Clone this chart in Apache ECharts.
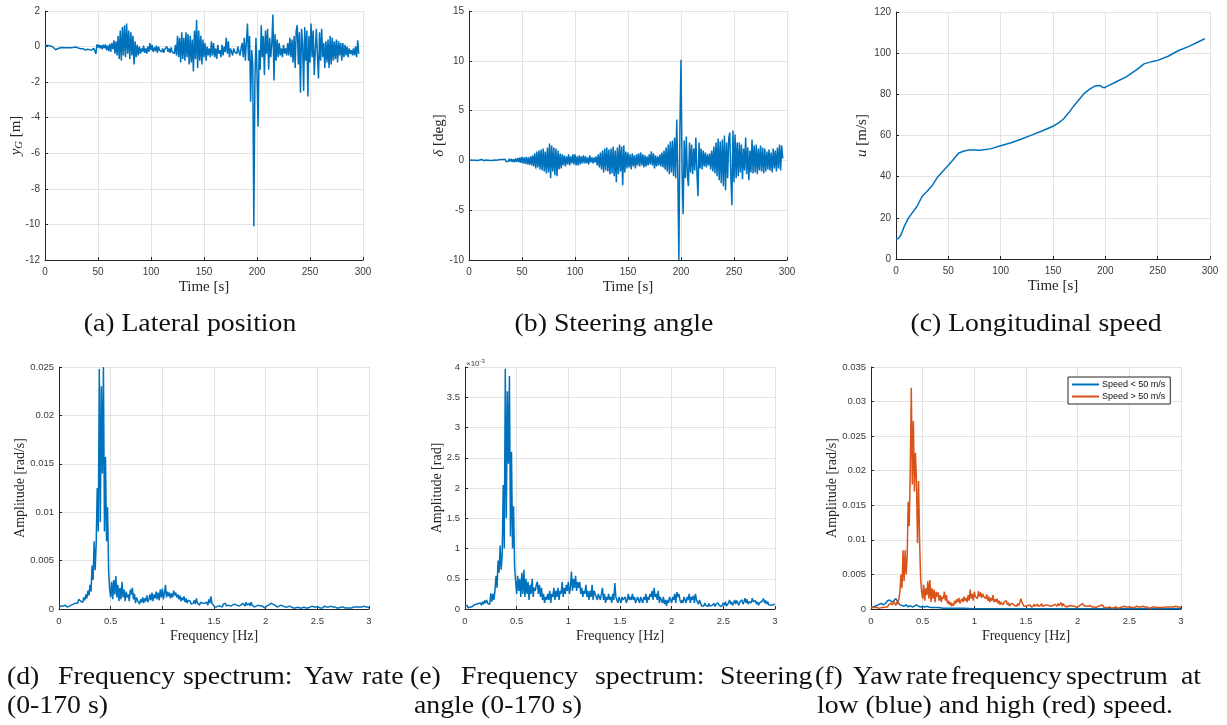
<!DOCTYPE html>
<html>
<head>
<meta charset="utf-8">
<script src="https://cdn.jsdelivr.net/npm/echarts@6/dist/echarts.min.js"></script>
<style>
  html, body { margin: 0; padding: 0; background: #fff; }
  #chart { width: 1227px; height: 725px; }
</style>
</head>
<body>
<div id="chart"></div>
<script>
// ---- Time histories, one sample per second (t = 0 ... 296 s) ----
const timeStep = 1;
const timeTicks = [0, 50, 100, 150, 200, 250, 300];

// Lateral position y_G [m]
const lateralPos = [
  0.05,0.06,0.07,0.06,0.05,0.04,0.02,0,-0.05,-0.1,
  -0.18,-0.22,-0.12,-0.05,-0.08,-0.06,-0.05,-0.07,-0.06,-0.05,
  -0.06,-0.05,-0.07,-0.05,-0.06,-0.04,-0.06,-0.05,-0.03,-0.06,
  -0.04,-0.07,-0.1,-0.08,-0.12,-0.14,-0.12,-0.16,-0.2,-0.18,
  -0.15,-0.2,-0.18,-0.13,-0.2,-0.16,-0.1,-0.25,-0.42,0.12,
  -0.05,0.1,-0.1,0.08,-0.15,0.1,-0.08,0.12,-0.2,0.05,
  -0.25,0.15,-0.3,0.2,-0.15,0.35,-0.4,0.3,-0.5,0.6,
  -0.7,0.9,-0.8,1.1,-0.5,1.2,-0.6,1.3,-0.4,0.9,
  -0.7,0.8,-0.5,0.6,-1.0,0.3,-0.6,0.1,-0.5,0.0,
  -0.4,-0.1,-0.3,0.05,-0.35,-0.1,-0.4,0.0,-0.3,0.2,
  -0.2,0.1,-0.3,-0.05,-0.25,0.05,-0.35,0.0,-0.2,-0.15,
  -0.3,-0.1,-0.35,-0.15,-0.2,0.0,-0.3,-0.1,-0.35,-0.05,
  -0.3,-0.2,-0.4,0.1,-0.5,0.6,-0.6,0.5,-0.9,0.8,
  -0.7,0.5,-0.8,0.8,-0.6,0.7,-1.0,0.6,-0.9,0.4,
  -1.4,0.9,-0.7,1.5,-1.2,0.9,-0.8,0.6,-1.0,0.4,
  -0.6,0.2,-0.8,0.0,-0.5,-0.1,-0.6,0.3,-0.5,0.2,
  -0.6,-0.1,-0.7,0.1,-0.4,-0.2,-0.6,0.1,-0.5,0.0,
  -0.3,0.5,-0.4,0.3,-0.6,-0.1,-0.2,-0.5,-0.1,-0.3,
  -0.2,-0.4,0.0,-0.3,-0.5,-0.1,0.2,-0.6,0.5,-0.8,
  -0.9,1.3,-0.8,0.6,-3.1,-0.2,-1.0,-10.1,-2.0,0.5,
  -1.5,-4.5,-0.2,-1.3,1.2,-0.6,0.6,-1.6,0.9,-0.4,
  1.0,-1.3,0.5,-0.6,0.2,1.8,-1.9,0.7,-0.8,0.4,
  -0.6,0.2,-0.5,-0.1,-0.6,0.1,-0.4,-0.1,-0.5,0.2,
  -0.5,0.5,-0.6,0.4,-0.9,0.6,-1.2,0.9,1.2,-1.0,
  0.8,-2.6,1.0,0.2,-2.5,1.1,-0.8,0.9,-2.8,0.6,
  -0.9,1.3,-0.6,0.9,-1.6,-0.2,1.0,-0.5,-1.8,0.8,
  -0.8,1.0,-0.6,0.2,-1.2,0.3,-0.9,0.4,-1.2,0.6,
  -1.0,0.5,-0.8,0.3,-0.7,0.4,-0.9,0.3,-0.5,0.2,
  -0.8,0.2,-0.6,0.1,-0.5,0.0,-0.6,-0.1,-0.4,-0.2,
  -0.5,-0.1,-0.5,0.0,-0.6,0.35,-0.4
];

// Steering angle delta [deg]
const steeringAngle = [
  0.02,0.0,0.03,-0.02,0.01,0.0,0.02,-0.01,0.0,0.02,
  0.05,0.08,0.1,0.02,-0.03,0.0,0.04,-0.02,0.01,0.03,
  -0.02,0.04,0.0,-0.05,0.05,-0.03,0.02,-0.04,0.06,-0.05,
  0.08,-0.06,0.1,-0.08,0.12,-0.1,0.1,-0.12,0.15,-0.1,
  0.15,-0.15,0.12,-0.18,0.2,-0.15,0.25,-0.2,0.3,-0.25,
  0.35,-0.3,0.3,-0.35,0.35,-0.4,0.3,-0.45,0.4,-0.5,
  0.5,-0.6,0.7,-0.8,0.9,-0.7,1.0,-0.9,1.1,-1.0,
  1.2,-1.1,0.9,-1.3,1.3,-1.2,1.7,-1.8,1.5,-1.1,
  1.3,-1.5,1.2,-1.6,1.0,-0.9,0.7,-0.8,0.6,-0.5,
  0.5,-0.6,0.4,-0.4,0.6,-0.5,0.4,-0.3,0.6,-0.4,
  0.6,-0.5,0.4,-0.5,0.5,-0.4,0.4,-0.3,0.5,-0.3,
  0.4,-0.3,0.3,-0.4,0.5,-0.2,0.3,-0.3,0.3,-0.2,
  0.4,-0.5,0.6,-0.7,0.8,-0.9,1.0,-1.2,1.2,-1.0,
  1.3,-1.1,1.1,-1.4,1.2,-1.3,1.4,-1.6,1.0,-2.2,
  1.3,-1.4,1.6,-1.1,1.4,-2.5,1.5,-1.2,0.9,-0.8,
  0.8,-0.7,0.6,-0.9,0.7,-0.6,0.5,-0.8,0.6,-0.5,
  0.7,-0.6,0.8,-0.5,0.6,-0.7,0.5,-0.6,0.4,-0.5,
  0.6,-0.4,0.9,-0.5,0.7,-0.8,0.5,-0.6,0.4,-0.5,
  0.6,-0.6,0.8,-0.7,1.0,-0.9,1.3,-1.1,1.6,-1.4,
  1.9,-1.2,2.0,-1.6,2.3,-1.8,4.1,-1.5,-10,3.5,
  10.1,-1.0,-5.4,2.0,-1.8,2.4,-1.5,-2.6,1.8,-1.2,
  1.6,-1.4,1.2,-1.0,2.3,-1.2,-3.6,1.8,-0.8,1.2,
  -0.9,1.0,-0.6,0.8,-0.7,0.6,-0.5,0.7,-0.9,1.0,
  -1.1,1.4,-1.3,1.8,-1.6,2.2,-2.0,1.9,-2.3,2.1,
  -2.6,2.5,-3.0,1.8,-1.8,2.2,2.8,-1.5,-4.5,3.0,
  -2.2,2.6,-1.8,1.8,-1.6,1.8,-1.2,1.6,-1.9,1.2,
  -1.0,2.3,-1.4,1.3,-2.0,1.0,-1.2,2.1,-1.3,1.5,
  -1.2,1.6,-1.4,1.2,-1.0,1.5,-1.1,1.3,-1.3,1.2,
  -1.1,0.9,-0.9,1.1,-1.0,0.8,-1.2,1.2,-0.8,1.0,
  -1.1,1.3,-0.8,1.6,-1.0,1.5,0.2
];

// Longitudinal speed u [m/s]
const speedTime = [0,2,5,8,12,20,25,30,35,40,50,55,60,65,70,75,80,90,100,110,120,130,140,150,155,160,165,170,175,180,185,190,195,197,199,202,210,220,230,237,245,250,260,270,280,290,295];
const speedVal  = [10,9.8,12,16,20,25.5,30.5,33,36,40,45.5,48.5,51.5,52.5,53,53,52.8,53.5,55,56.5,58.3,60.3,62.3,64.5,66,68,71,74.5,77.5,80.5,82.5,84,84.3,83.5,83.2,84,86,88.5,92,94.8,96,96.5,98.5,101.3,103.3,105.8,107];

// ---- Amplitude spectra, 0.01 Hz bins from 0 to 3 Hz ----
const freqStep = 0.01;
const freqTicks = [0, 0.5, 1, 1.5, 2, 2.5, 3];

// Yaw rate spectrum, 0-170 s [rad/s]
const yawSpec = [
  0.0002,0.0002,0.0003,0.0002,0.0003,0.0002,0.0004,0.0003,0.0002,0.0004,
  0.0003,0.0005,0.0004,0.0006,0.0005,0.0007,0.0006,0.0008,0.0006,0.0010,
  0.0012,0.0008,0.0010,0.0007,0.0012,0.0009,0.0015,0.0011,0.0019,0.0014,
  0.0025,0.0018,0.0045,0.0030,0.0070,0.0040,0.0068,0.0125,0.0080,0.0248,
  0.0090,0.0230,0.0140,0.0250,0.0080,0.0157,0.0070,0.0105,0.0040,0.0020,
  0.0012,0.0028,0.0010,0.0030,0.0015,0.0034,0.0012,0.0025,0.0008,0.0022,
  0.0010,0.0028,0.0012,0.0020,0.0008,0.0018,0.0012,0.0015,0.0008,0.0020,
  0.0015,0.0022,0.0010,0.0016,0.0006,0.0012,0.0009,0.0008,0.0005,0.0010,
  0.0007,0.0012,0.0006,0.0011,0.0008,0.0014,0.0007,0.0010,0.0015,0.0009,
  0.0017,0.0008,0.0015,0.0011,0.0018,0.0010,0.0017,0.0009,0.0020,0.0012,
  0.0021,0.0010,0.0016,0.0025,0.0012,0.0018,0.0013,0.0017,0.0011,0.0016,
  0.0012,0.0019,0.0014,0.0017,0.0012,0.0015,0.0010,0.0014,0.0008,0.0012,
  0.0009,0.0013,0.0007,0.0011,0.0006,0.0009,0.0007,0.0008,0.0005,0.0007,
  0.0006,0.0009,0.0005,0.0011,0.0006,0.0008,0.0004,0.0007,0.0005,0.0006,
  0.0004,0.0006,0.0005,0.0007,0.0004,0.0010,0.0006,0.0013,0.0006,0.0004,
  0.0003,0.0005,0.0002,0.0004,0.0003,0.0005,0.0003,0.0004,0.0002,0.0005,
  0.0004,0.0006,0.0003,0.0005,0.0004,0.0006,0.0003,0.0005,0.0004,0.0003,
  0.0005,0.0003,0.0004,0.0006,0.0003,0.0005,0.0004,0.0002,0.0006,0.0004,
  0.0003,0.0007,0.0004,0.0005,0.0006,0.0003,0.0007,0.0004,0.0005,0.0002,
  0.0004,0.0003,0.0002,0.0004,0.0002,0.0003,0.0001,0.0003,0.0002,0.0001,
  0.0002,0.0003,0.0002,0.0004,0.0003,0.0006,0.0004,0.0005,0.0003,0.0004,
  0.0003,0.0002,0.0004,0.0003,0.0002,0.0004,0.0002,0.0003,0.0001,0.0002,
  0.0003,0.0002,0.0004,0.0003,0.0004,0.0002,0.0003,0.0001,0.0002,0.0001,
  0.0001,0.0002,0.0001,0.0001,0.0002,0.0001,0.0001,0.0002,0.0001,0.0001,
  0.0002,0.0001,0.0001,0.0002,0.0001,0.0003,0.0001,0.0002,0.0001,0.0002,
  0.0001,0.0002,0.0003,0.0001,0.0002,0.0001,0.0002,0.0003,0.0001,0.0002,
  0.0001,0.0002,0.0001,0.0003,0.0001,0.0002,0.0001,0.0002,0.0001,0.0001,
  0.0002,0.0001,0.0003,0.0002,0.0001,0.0002,0.0003,0.0001,0.0002,0.0001,
  0.0002,0.0001,0.0002,0.0001,0.0003,0.0002,0.0001,0.0002,0.0001,0.0002,
  0.0001,0.0002,0.0001,0.0002,0.0001,0.0003,0.0001,0.0002,0.0001,0.0002,0.0001
];

// Steering angle spectrum, 0-170 s [rad], in units of 1e-3
const steerSpec = [
  0.05,0.03,0.06,0.02,0.05,0.03,0.06,0.04,0.03,0.07,
  0.05,0.08,0.06,0.09,0.07,0.10,0.06,0.12,0.08,0.14,
  0.10,0.15,0.09,0.12,0.08,0.26,0.12,0.25,0.15,0.30,
  0.55,0.35,0.80,0.60,1.05,0.65,0.90,2.05,1.00,3.97,
  1.50,3.60,2.40,3.85,1.20,2.60,1.00,1.70,0.70,0.45,
  0.25,0.55,0.30,0.50,0.20,0.60,0.25,0.65,0.20,0.50,
  0.25,0.45,0.15,0.40,0.25,0.50,0.20,0.35,0.30,0.40,
  0.45,0.25,0.40,0.20,0.35,0.15,0.25,0.10,0.20,0.15,
  0.25,0.15,0.30,0.10,0.25,0.20,0.35,0.15,0.30,0.20,
  0.35,0.15,0.30,0.25,0.45,0.20,0.35,0.25,0.40,0.30,
  0.45,0.25,0.35,0.62,0.30,0.50,0.35,0.55,0.30,0.45,
  0.35,0.45,0.25,0.35,0.20,0.30,0.25,0.40,0.20,0.30,
  0.15,0.30,0.20,0.40,0.15,0.30,0.25,0.20,0.15,0.25,
  0.20,0.15,0.25,0.35,0.15,0.25,0.10,0.20,0.15,0.25,
  0.15,0.20,0.10,0.25,0.15,0.43,0.20,0.15,0.10,0.20,
  0.15,0.10,0.20,0.15,0.12,0.20,0.10,0.15,0.25,0.15,
  0.20,0.15,0.25,0.15,0.20,0.10,0.15,0.20,0.15,0.10,
  0.20,0.15,0.10,0.20,0.15,0.25,0.10,0.20,0.15,0.25,
  0.20,0.30,0.15,0.35,0.20,0.25,0.15,0.30,0.10,0.20,
  0.15,0.10,0.20,0.08,0.15,0.05,0.15,0.10,0.20,0.15,
  0.10,0.20,0.15,0.25,0.10,0.28,0.20,0.25,0.15,0.10,
  0.15,0.10,0.20,0.15,0.10,0.20,0.15,0.25,0.10,0.20,
  0.15,0.22,0.10,0.25,0.15,0.12,0.08,0.15,0.10,0.05,
  0.08,0.05,0.10,0.06,0.08,0.04,0.09,0.05,0.08,0.06,
  0.05,0.09,0.04,0.08,0.05,0.10,0.06,0.08,0.04,0.07,
  0.10,0.06,0.12,0.05,0.08,0.10,0.15,0.08,0.12,0.06,
  0.10,0.15,0.08,0.14,0.10,0.06,0.12,0.09,0.15,0.08,
  0.12,0.18,0.10,0.16,0.08,0.12,0.15,0.10,0.18,0.12,
  0.10,0.14,0.08,0.12,0.06,0.10,0.08,0.12,0.10,0.17,
  0.10,0.14,0.08,0.12,0.07,0.10,0.06,0.09,0.07,0.10,0.08
];

// Yaw rate spectrum at low speed (< 50 m/s) [rad/s]
const lowSpeedFreq = [0,0.02,0.04,0.06,0.08,0.10,0.12,0.14,0.16,0.18,0.20,0.22,0.24,0.26,0.28,0.30,0.32,0.34,0.36,0.38,0.40,0.42,0.44,0.46,0.48,0.50,0.52,0.54,0.56,0.58,0.60,0.65,0.70,0.80,0.90,1.0,1.5,2.0,2.5,3.0];
const lowSpeedAmp  = [0.0002,0.0003,0.0004,0.0005,0.0007,0.0008,0.0006,0.0008,0.0012,0.0013,0.0010,0.0012,0.0015,0.0010,0.0006,0.0005,0.0004,0.0006,0.0003,0.0005,0.0003,0.0004,0.0006,0.0004,0.0003,0.0004,0.0003,0.0004,0.0003,0.0002,0.0002,0.0002,0.0001,0.0001,0.0001,0.00005,0.00005,0.00005,0.00005,0.00005];

// Yaw rate spectrum at high speed (> 50 m/s) [rad/s]
const highSpeedAmp = [
  0.0002,0.0001,0.0002,0.0001,0.0002,0.0001,0.0002,0.0003,0.0001,0.0002,
  0.0002,0.0003,0.0002,0.0004,0.0003,0.0005,0.0003,0.0006,0.0004,0.0008,
  0.0010,0.0006,0.0012,0.0008,0.0005,0.0010,0.0007,0.0015,0.0025,0.0050,
  0.0030,0.0085,0.0040,0.0085,0.0050,0.0075,0.0155,0.0120,0.0200,0.0320,
  0.0180,0.0272,0.0170,0.0226,0.0185,0.0095,0.0185,0.0100,0.0045,0.0025,
  0.0015,0.0035,0.0012,0.0030,0.0020,0.0040,0.0015,0.0042,0.0010,0.0030,
  0.0015,0.0028,0.0010,0.0025,0.0018,0.0024,0.0012,0.0020,0.0010,0.0018,
  0.0015,0.0025,0.0012,0.0020,0.0008,0.0012,0.0006,0.0010,0.0004,0.0008,
  0.0005,0.0012,0.0008,0.0014,0.0010,0.0016,0.0008,0.0012,0.0015,0.0010,
  0.0018,0.0012,0.0016,0.0010,0.0020,0.0012,0.0028,0.0015,0.0022,0.0012,
  0.0025,0.0018,0.0020,0.0015,0.0026,0.0018,0.0024,0.0016,0.0022,0.0018,
  0.0020,0.0015,0.0021,0.0012,0.0018,0.0010,0.0016,0.0012,0.0020,0.0010,
  0.0014,0.0010,0.0015,0.0008,0.0012,0.0006,0.0010,0.0008,0.0006,0.0010,
  0.0008,0.0012,0.0006,0.0009,0.0004,0.0007,0.0005,0.0008,0.0006,0.0005,
  0.0006,0.0004,0.0008,0.0005,0.0009,0.0015,0.0010,0.0007,0.0004,0.0006,
  0.0004,0.0003,0.0005,0.0004,0.0006,0.0003,0.0005,0.0004,0.0007,0.0004,
  0.0005,0.0007,0.0004,0.0006,0.0005,0.0008,0.0004,0.0006,0.0005,0.0004,
  0.0006,0.0004,0.0005,0.0007,0.0004,0.0006,0.0005,0.0003,0.0007,0.0005,
  0.0004,0.0008,0.0005,0.0006,0.0009,0.0004,0.0008,0.0005,0.0006,0.0003,
  0.0005,0.0004,0.0003,0.0005,0.0003,0.0004,0.0002,0.0004,0.0003,0.0002,
  0.0003,0.0004,0.0003,0.0006,0.0004,0.0008,0.0005,0.0006,0.0004,0.0005,
  0.0004,0.0003,0.0005,0.0004,0.0003,0.0005,0.0003,0.0004,0.0002,0.0003,
  0.0004,0.0003,0.0005,0.0004,0.0006,0.0003,0.0004,0.0002,0.0003,0.0002,
  0.0002,0.0003,0.0002,0.0001,0.0003,0.0002,0.0001,0.0003,0.0002,0.0001,
  0.0003,0.0002,0.0001,0.0003,0.0002,0.0004,0.0002,0.0003,0.0001,0.0003,
  0.0002,0.0003,0.0004,0.0002,0.0003,0.0002,0.0003,0.0004,0.0002,0.0003,
  0.0002,0.0003,0.0002,0.0004,0.0002,0.0003,0.0002,0.0003,0.0002,0.0001,
  0.0003,0.0002,0.0004,0.0003,0.0002,0.0003,0.0004,0.0002,0.0003,0.0002,
  0.0003,0.0002,0.0003,0.0002,0.0004,0.0003,0.0002,0.0003,0.0002,0.0003,
  0.0002,0.0003,0.0002,0.0003,0.0002,0.0004,0.0002,0.0003,0.0002,0.0003,0.0002
];

const legendNames = ['Speed < 50 m/s', 'Speed > 50 m/s'];

// ---- Styling ----
const BLUE = '#0072BD';
const ORANGE = '#D95319';
const AXIS = '#262626';
const GRID = '#e3e3e3';
const SERIF = '"Liberation Serif", "Times New Roman", serif';
const SANS = '"Liberation Sans", Arial, Helvetica, sans-serif';

const onGrid = (vals, step) => vals.map((v, i) => [Math.round(i * step * 1000) / 1000, v]);
const pairs = (xs, ys) => xs.map((x, i) => [x, ys[i]]);

function axisCommon(gi, min, max, interval, labelSize) {
  return {
    type: 'value', gridIndex: gi, min, max, interval,
    axisLine: { show: true, onZero: false, lineStyle: { color: AXIS, width: 1 } },
    axisTick: { show: true, inside: true, length: 3, lineStyle: { color: AXIS, width: 1 } },
    axisLabel: { fontFamily: SANS, fontSize: labelSize, color: '#3a3a3a' },
    splitLine: { show: true, lineStyle: { color: GRID, width: 1 } }
  };
}
function xAxis(gi, min, max, interval, name, gap, nameSize, labelSize) {
  const a = axisCommon(gi, min, max, interval, labelSize);
  a.axisLabel.margin = 7;
  return Object.assign(a, {
    name, nameLocation: 'middle', nameGap: gap, nameMoveOverlap: false,
    nameTextStyle: { fontFamily: SERIF, fontSize: nameSize, color: AXIS }
  });
}
function yAxis(gi, min, max, interval, name, gap, nameSize, labelSize) {
  const a = axisCommon(gi, min, max, interval, labelSize);
  a.axisLabel.margin = 5;
  return Object.assign(a, {
    name, nameLocation: 'middle', nameGap: gap, nameMoveOverlap: false,
    nameTextStyle: {
      fontFamily: SERIF, fontSize: nameSize, color: AXIS,
      rich: {
        i: { fontFamily: SERIF, fontStyle: 'italic', fontSize: nameSize, color: AXIS },
        sub: { fontFamily: SERIF, fontStyle: 'italic', fontSize: nameSize * 0.7, color: AXIS, verticalAlign: 'bottom', padding: [6, 0, 0, 0] }
      }
    }
  });
}
function line(name, xi, yi, data, color) {
  return {
    name, type: 'line', xAxisIndex: xi, yAxisIndex: yi, data,
    showSymbol: false, symbol: 'none', clip: true,
    lineStyle: { color, width: 1.5 }, itemStyle: { color },
    emphasis: { disabled: true }, animation: false
  };
}

// Caption text helpers
const CAP_SIZE = 25, CAP_SCALE = 1.11;
function cap(text, x, y, align) {
  return {
    type: 'text', x, y, scaleX: CAP_SCALE,
    style: { text, fontFamily: SERIF, fontSize: CAP_SIZE, fill: '#111', textAlign: align || 'left', textVerticalAlign: 'middle' }
  };
}
function capWords(words, xs, y) {
  return words.map((w, i) => cap(w, xs[i], y, 'left'));
}

const chart = echarts.init(document.getElementById('chart'), null, { renderer: 'canvas' });

const option = {
  backgroundColor: '#ffffff',
  animation: false,
  grid: [
    { left: 45,  top: 11,  width: 318, height: 249 },
    { left: 469, top: 11,  width: 318, height: 249 },
    { left: 896, top: 12,  width: 314, height: 247 },
    { left: 59,  top: 367, width: 310, height: 242 },
    { left: 465, top: 367, width: 310, height: 242 },
    { left: 871, top: 367, width: 310, height: 242 }
  ],
  xAxis: [
    xAxis(0, timeTicks[0], timeTicks[timeTicks.length - 1], 50, 'Time [s]', 20, 15, 10),
    xAxis(1, timeTicks[0], timeTicks[timeTicks.length - 1], 50, 'Time [s]', 20, 15, 10),
    xAxis(2, timeTicks[0], timeTicks[timeTicks.length - 1], 50, 'Time [s]', 20, 15, 10),
    xAxis(3, freqTicks[0], freqTicks[freqTicks.length - 1], 0.5, 'Frequency [Hz]', 20, 14, 9.5),
    xAxis(4, freqTicks[0], freqTicks[freqTicks.length - 1], 0.5, 'Frequency [Hz]', 20, 14, 9.5),
    xAxis(5, freqTicks[0], freqTicks[freqTicks.length - 1], 0.5, 'Frequency [Hz]', 20, 14, 9.5)
  ],
  yAxis: [
    yAxis(0, -12, 2, 2, '{i|y}{sub|G} [m]', 20, 15, 10),
    yAxis(1, -10, 15, 5, '{i|δ} [deg]', 22, 15, 10),
    yAxis(2, 0, 120, 20, '{i|u} [m/s]', 26, 15, 10),
    yAxis(3, 0, 0.025, 0.005, 'Amplitude [rad/s]', 32, 14, 9.5),
    yAxis(4, 0, 4, 0.5, 'Amplitude [rad]', 21, 14, 9.5),
    yAxis(5, 0, 0.035, 0.005, 'Amplitude [rad/s]', 32, 14, 9.5)
  ],
  legend: {
    data: legendNames,
    left: 1068, top: 377,
    orient: 'vertical',
    backgroundColor: '#fff',
    borderColor: '#262626', borderWidth: 1, borderRadius: 0,
    padding: [3, 5, 3, 4], itemGap: 3,
    itemWidth: 27, itemHeight: 2, icon: 'rect',
    textStyle: { fontFamily: SANS, fontSize: 9, color: '#111', padding: [0, 0, 0, -2] },
    selectedMode: false
  },
  series: [
    line('lateral', 0, 0, onGrid(lateralPos, timeStep), BLUE),
    line('steer', 1, 1, onGrid(steeringAngle, timeStep), BLUE),
    line('speed', 2, 2, pairs(speedTime, speedVal), BLUE),
    line('yawSpec', 3, 3, onGrid(yawSpec, freqStep), BLUE),
    line('steerSpec', 4, 4, onGrid(steerSpec, freqStep), BLUE),
    line(legendNames[0], 5, 5, pairs(lowSpeedFreq, lowSpeedAmp), BLUE),
    line(legendNames[1], 5, 5, onGrid(highSpeedAmp, freqStep), ORANGE)
  ],
  graphic: [
    // exponent of the steering spectrum axis
    {
      type: 'text', x: 466, y: 364,
      style: {
        text: '{a|×10}{b|-3}', fontFamily: SANS, fill: '#3a3a3a', textVerticalAlign: 'middle',
        rich: { a: { fontFamily: SANS, fontSize: 8, fill: '#3a3a3a' }, b: { fontFamily: SANS, fontSize: 6, fill: '#3a3a3a', verticalAlign: 'top', padding: [0, 0, 5, 0] } }
      }
    },
    cap('(a) Lateral position', 190, 324, 'center'),
    cap('(b) Steering angle', 614, 324, 'center'),
    cap('(c) Longitudinal speed', 1036, 324, 'center'),
    ...capWords(['(d)', 'Frequency', 'spectrum:', 'Yaw', 'rate'], [7, 58, 183, 304, 362], 677),
    cap('(0-170 s)', 7, 706, 'left'),
    ...capWords(['(e)', 'Frequency', 'spectrum:', 'Steering'], [410, 461, 595, 720], 677),
    cap('angle (0-170 s)', 414, 706, 'left'),
    ...capWords(['(f)', 'Yaw', 'rate', 'frequency', 'spectrum', 'at'], [815, 853, 906, 951, 1066, 1181], 677),
    cap('low (blue) and high (red) speed.', 817, 706, 'left')
  ]
};

chart.setOption(option);
</script>
</body>
</html>
